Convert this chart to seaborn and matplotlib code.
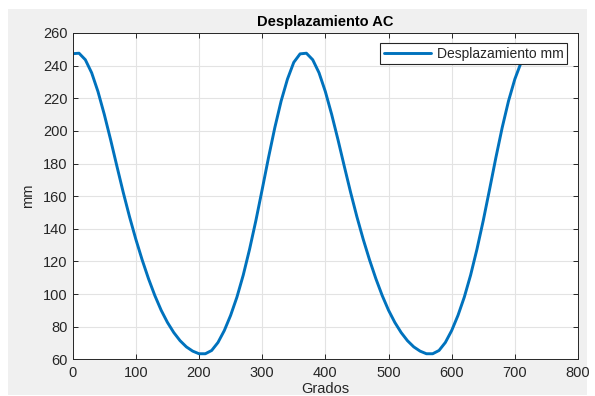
import matplotlib
matplotlib.use("Agg")
import matplotlib.pyplot as plt
import seaborn as sns
import pandas as pd
from matplotlib.patches import Rectangle

# crank angle (degrees), read every 10 deg off the reference
grados = list(range(0, 730, 10))

# displacement (mm), first cycle 0..360 then second cycle 370..720
desplazamiento = [
    247.3, 247.6, 243.6, 235.6, 224.1, 210.1, 194.6, 178.3, 162.3, 147.3,
    133.5, 120.9, 109.4, 99.1, 90.1, 82.6, 76.4, 71.4, 67.6, 65.0,
    63.4, 63.4, 65.4, 70.3, 77.6, 86.9, 98.1, 111.6, 127.4, 145.0,
    164.1, 183.6, 202.0, 218.3, 231.7, 242.0, 247.2,
    247.6, 243.6, 235.6, 224.1, 210.1, 194.6, 178.3, 162.3, 147.3,
    133.5, 120.9, 109.4, 99.1, 90.1, 82.6, 76.4, 71.4, 67.6, 65.0,
    63.4, 63.4, 65.4, 70.3, 77.6, 86.9, 98.1, 111.6, 127.4, 145.0,
    164.1, 183.6, 202.0, 218.3, 231.7, 242.0, 247.2,
]

x_ticks = [0, 100, 200, 300, 400, 500, 600, 700, 800]
y_ticks = [60, 80, 100, 120, 140, 160, 180, 200, 220, 240, 260]

df = pd.DataFrame({"Grados": grados, "mm": desplazamiento})

sns.set_style("ticks")
plt.rcParams["font.family"] = ["Liberation Sans", "DejaVu Sans"]
plt.rcParams["xtick.direction"] = "in"
plt.rcParams["ytick.direction"] = "in"

fig = plt.figure(figsize=(5.95, 3.96), dpi=100, facecolor="white")
# gray window background of the screenshot
fig.patches.append(Rectangle((8 / 595, 1 / 396), 579 / 595, 386 / 396,
                             transform=fig.transFigure, facecolor="#f0f0f0",
                             edgecolor="none", zorder=-10))

ax = fig.add_axes([0.1222, 0.0927, 0.8492, 0.824])
ax.set_facecolor("white")

sns.lineplot(data=df, x="Grados", y="mm", ax=ax, color="#0072BD",
             linewidth=2.1, label="Desplazamiento mm")
ax.lines[0].set_solid_joinstyle("round")

ax.set_xlim(0, 800)
ax.set_ylim(60, 260)
ax.set_xticks(x_ticks)
ax.set_yticks(y_ticks)
ax.grid(True, color="#e3e3e3", linewidth=0.8)
ax.set_axisbelow(True)
ax.tick_params(axis="both", colors="#262626", labelsize=10.5, length=3.5,
               width=0.7, top=True, right=True, labelcolor="#262626")
ax.tick_params(axis="x", pad=5)
for s in ax.spines.values():
    s.set_visible(True)
    s.set_color("#262626")
    s.set_linewidth(0.7)

ax.set_title("Desplazamiento AC", fontsize=10.5, fontweight="bold",
             color="black", pad=5)
ax.set_xlabel("Grados", fontsize=10.5, color="#262626", labelpad=1.5)
ax.set_ylabel("mm", fontsize=10.5, color="#262626", labelpad=6)

leg = ax.legend(loc="upper right", bbox_to_anchor=(0.978, 0.969),
                borderaxespad=0, fontsize=10, frameon=True, fancybox=False,
                framealpha=1, edgecolor="#262626", borderpad=0.25,
                handlelength=3.4, handletextpad=0.4)
leg.get_frame().set_linewidth(0.8)

fig.savefig("out.png", dpi=100, facecolor=fig.get_facecolor())
